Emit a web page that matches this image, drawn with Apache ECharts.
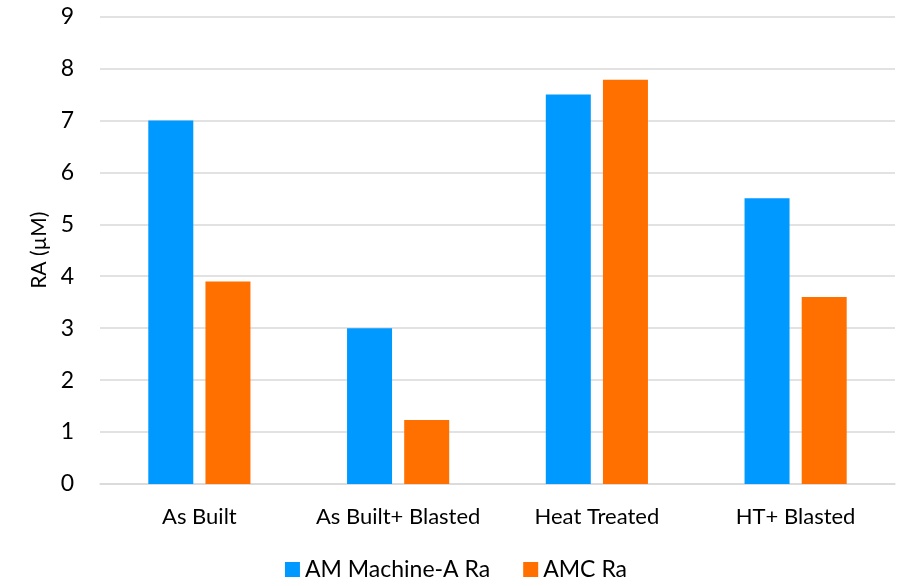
<!DOCTYPE html>
<html><head><meta charset="utf-8">
<script src="https://cdn.jsdelivr.net/npm/echarts@6/dist/echarts.min.js"></script>
<style>html,body{margin:0;padding:0;background:#fff}#c{width:912px;height:586px}</style>
</head><body><div id="c"></div>
<script>
const categories = ["As Built", "As Built+ Blasted", "Heat Treated", "HT+ Blasted"];
const seriesNames = ["AM Machine-A Ra", "AMC Ra"];
const machineA = [7.0, 3.0, 7.5, 5.5];
const amc = [3.9, 1.23, 7.78, 3.6];
const yTicks = [0, 1, 2, 3, 4, 5, 6, 7, 8, 9];

const font = "Lato, 'Open Sans', sans-serif";
const chart = echarts.init(document.getElementById('c'));
chart.setOption({
  animation: false,
  grid: {left: 100, right: 17, top: 16.5, bottom: 102, containLabel: false},
  legend: {
    bottom: 0, left: 'center', itemWidth: 15, itemHeight: 15, itemGap: 33,
    itemTextGap: 6, icon: 'rect',
    textStyle: {fontFamily: font, fontSize: 23, color: '#000'},
    data: seriesNames
  },
  xAxis: {
    type: 'category', data: categories,
    axisLine: {show: true, lineStyle: {color: '#d9d9d9', width: 1.5}},
    axisTick: {show: false},
    axisLabel: {fontFamily: font, fontSize: 22, color: '#000', margin: 22, interval: 0}
  },
  yAxis: {
    type: 'value', min: yTicks[0], max: yTicks[yTicks.length - 1], interval: 1,
    name: 'RA (µM)', nameLocation: 'middle', nameRotate: 90, nameGap: 50,
    nameTextStyle: {fontFamily: font, fontSize: 21, color: '#000'},
    axisLine: {show: false}, axisTick: {show: false},
    axisLabel: {fontFamily: font, fontSize: 23, color: '#000', margin: 26},
    splitLine: {lineStyle: {color: '#d9d9d9', width: 1.5}}
  },
  series: [
    {name: seriesNames[0], type: 'bar', data: machineA, barWidth: 45, barGap: '27%',
     itemStyle: {color: '#0099FF'}},
    {name: seriesNames[1], type: 'bar', data: amc, barWidth: 45,
     itemStyle: {color: '#FF7000'}}
  ]
});
</script></body></html>
